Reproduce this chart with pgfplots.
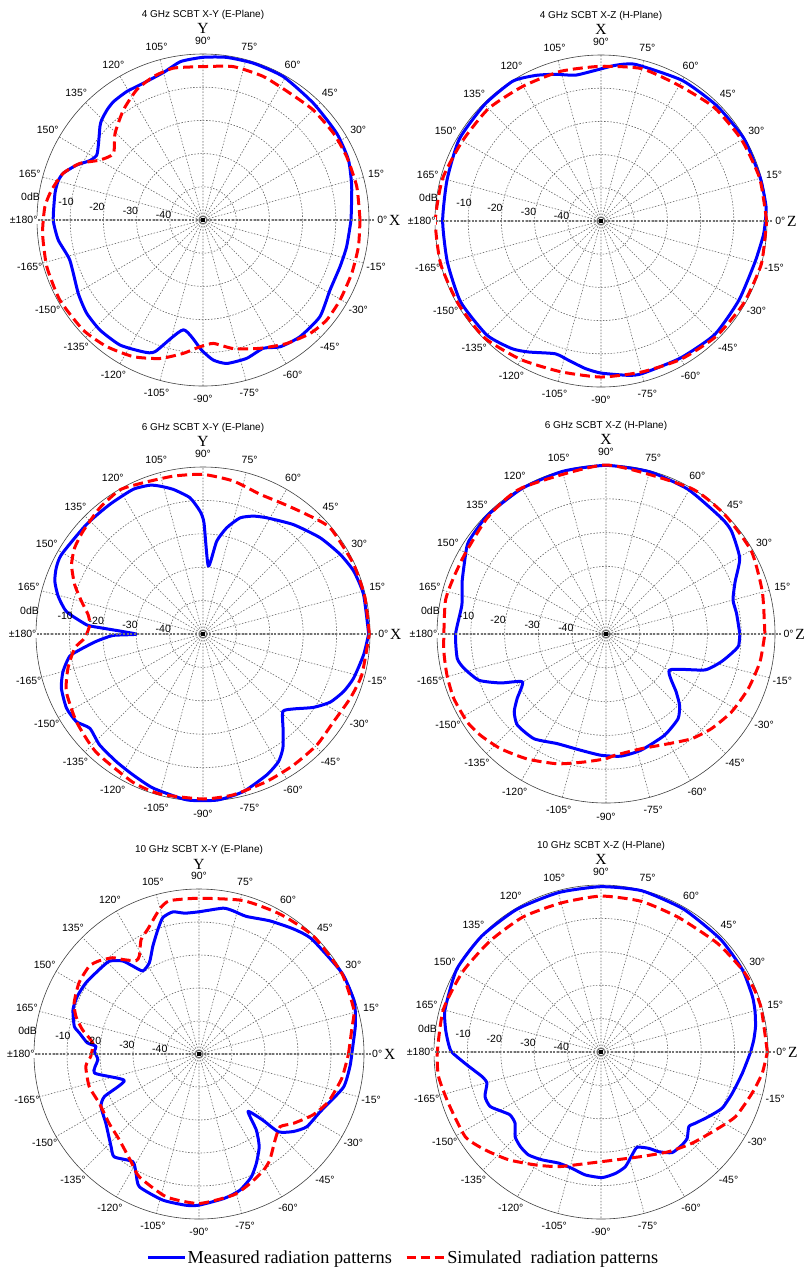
\documentclass[border=0pt]{standalone}
\usepackage{pgfplots}
\pgfplotsset{compat=1.18}
\usepgfplotslibrary{polar}
\usepackage{fontspec}
\setmainfont{Liberation Sans}
\newfontfamily\seriffont{Liberation Serif}
\newcommand\lbl{\fontsize{10.5}{12}\selectfont}
\newcommand\ttl{\fontsize{10}{12}\selectfont}
\newcommand\axl{\seriffont\fontsize{15.5}{17}\selectfont}
\newcommand\leg{\seriffont\fontsize{18.3}{20}\selectfont}

\pgfplotsset{
  rp/.style={
    scale only axis, anchor=center,
    xmin=0, xmax=360, ymin=0, ymax=50,
    xtick={0,15,...,345}, ytick={10,20,30,40},
    xticklabel={\empty}, yticklabel={\empty},
    major tick length=0pt,
    grid=major,
    major grid style={black!60, line width=0.6pt, dash pattern=on 1.5pt off 1.6pt},
    axis line style={black!75, line width=0.6pt},
    y axis line style={draw=none},
    clip=false,
  },
  meas/.style={color=blue, line width=3pt, smooth, tension=0.35, line join=round,
    legend image code/.code={\draw[draw=blue, line width=2.3pt] (0pt,0pt) -- (37pt,0pt);}},
  sim/.style={color=red, line width=3pt, dash pattern=on 10pt off 5pt, smooth, tension=0.35,
    legend image code/.code={\draw[draw=red, line width=2.3pt, dash pattern=on 9pt off 5pt] (0pt,0pt) -- (38pt,0pt);}},
}

\newcommand\decor[3]{%
  \draw[black!55, line width=1.1pt, dash pattern=on 2pt off 1.6pt] (axis cs:180,52) -- (axis cs:0,52);
  \fill[black] (axis cs:0,0) +(-2pt,-2pt) rectangle +(2pt,2pt);
  \node[font=\ttl] at (axis cs:90,61.7) {#1};
  \node[font=\axl] at (axis cs:90,57.6) {#2};
  \node[font=\axl, anchor=west, inner sep=0pt] at (axis cs:0,56) {#3};
  \pgfplotsinvokeforeach{0,15,...,165}{\node[font=\lbl] at (axis cs:##1,54) {##1°};}
  \node[font=\lbl, fill=white, inner sep=0.5pt] at (axis cs:180,54) {±180°};
  \pgfplotsinvokeforeach{-165,-150,...,-15}{\node[font=\lbl] at (axis cs:##1,54) {##1°};}
  \node[font=\lbl] at (axis cs:172.4,52.4) {0dB};
  \node[font=\lbl] at (axis cs:172.5,41.6) {-10};
  \node[font=\lbl] at (axis cs:172.8,32.2) {-20};
  \node[font=\lbl] at (axis cs:173,22) {-30};
  \node[font=\lbl] at (axis cs:172,12) {-40};
}

\begin{document}
\begin{tikzpicture}
\useasboundingbox (0,0) rectangle (804pt,-1267pt);

% ---------- 4 GHz E-plane
\begin{polaraxis}[rp, at={(203pt,-220pt)}, width=332pt, height=332pt]
\addplot[meas] table[y expr=\thisrowno{1}+50] {
a d
0 -5.4
12.6 -4.1
22.4 -2.6
33 -2.0
46.6 -1.6
60.7 -0.5
72 -0.4
81.7 -0.5
90 -1.0
98 -1.8
105 -4.0
115 -5.1
120.7 -5.0
127 -5.3
131 -6.0
135.4 -7.1
137.8 -8.1
143.8 -11.0
148.6 -12.5
152.3 -11.5
156.5 -8.5
161.5 -5.6
165 -4.8
169.8 -4.7
180 -4.9
187.9 -6.0
196.7 -8.1
210.5 -6.4
218.7 -5.1
226.9 -4.6
236.4 -4.8
245.6 -6.4
250 -7.8
259.9 -16.4
269.4 -10.8
274.2 -7.7
279.4 -6.2
287.5 -6.3
295.2 -7.3
301.3 -5.3
309.7 -4.3
320.4 -4.3
331 -6.3
341.2 -6.4
349.5 -6.0
360 -5.4
};
\addplot[sim] table[y expr=\thisrowno{1}+50] {
a d
0 -2.7
12.2 -2.6
23.8 -2.7
33.6 -2.8
45 -3.1
55.5 -3.7
67.2 -3.1
78.8 -2.9
90 -3.8
101 -3.4
109 -4.3
117 -6.0
125.9 -9.1
135.4 -12.8
143.4 -16.4
149.8 -14.1
155.3 -9.2
161.5 -5.6
168.8 -3.5
175.2 -2.2
184.8 -1.5
196.6 -0.9
209.2 -0.6
222.6 -1.0
232.7 -2.1
243 -3.8
252.7 -6.3
261.6 -9.4
268.6 -11.8
274.8 -12.7
283.3 -10.2
294 -7.7
304 -5.1
313.4 -3.0
321 -2.1
329.7 -2.2
340.3 -2.4
350.3 -2.5
360 -2.7
};
\decor{4 GHz SCBT X-Y (E-Plane)}{Y}{X}
\end{polaraxis}

% ---------- 4 GHz H-plane
\begin{polaraxis}[rp, at={(601pt,-221pt)}, width=332pt, height=332pt]
\addplot[meas] table[y expr=\thisrowno{1}+50] {
a d
0 -0.5
5 -0.1
15 -0.3
30 -0.3
45 -0.8
60 -1.1
77.6 -1.7
84.7 -2.9
92.2 -4.6
100 -5.4
107.3 -3.7
114.3 -1.9
122.3 -0.2
135 -0.4
150 -0.7
165 -2.0
180 -2.3
195 -2.1
210 -1.2
225 -1.4
235 -3.1
241 -4.9
251 -7.7
257 -6.9
264 -5.3
270 -4.2
280 -2.8
285 -2.4
300 -2.3
315 -1.6
330 -2.1
345 -2.0
355 -0.9
360 -0.5
};
\addplot[sim] table[y expr=\thisrowno{1}+50] {
a d
0 -0.1
15 -0.5
30 -1.1
45 -1.7
60 -2.9
75 -2.5
90 -3.4
105 -3.3
120 -3.1
135 -2.1
150 -1.8
165 -0.6
180 -0.1
195 0
210 -0.3
225 -0.3
240 -1.8
255 -3.0
270 -3.0
285 -2.9
300 -1.9
315 -0.9
330 -0.4
345 0
360 -0.1
};
\decor{4 GHz SCBT X-Z (H-Plane)}{X}{Z}
\end{polaraxis}

% ---------- 6 GHz E-plane
\begin{polaraxis}[rp, at={(203pt,-634pt)}, width=334pt, height=334pt]
\addplot[meas] table[y expr=\thisrowno{1}+50] {
a d
0 -0.4
13.8 -0.5
22.6 -1.1
30.1 -2.5
39.4 -4.6
50.4 -7.5
61.2 -10.3
66.8 -11.6
72.3 -13.5
77.4 -17.4
81.6 -21.9
85.5 -29.6
89.5 -16.7
91.4 -13.2
95.5 -9.0
101.6 -5.8
106.2 -3.9
109.6 -2.7
115.8 -1.9
125.7 -2.2
136.8 -2.1
150.7 -1.4
155.7 -1.8
160.4 -2.9
165.4 -5.2
170.6 -8.5
174.7 -14.0
176 -16.5
180 -29.9
180.9 -23.1
183.9 -18.0
187.3 -12.8
189.5 -9.5
195 -6.6
200.9 -4.6
208.5 -3.5
214.7 -3.9
219.8 -5.9
227 -4.6
235.9 -3.8
243.6 -2.9
252.1 -1.5
264.4 -0.1
275 -0.1
284.4 -1.3
294.4 -3.7
300.6 -5.6
305 -8.3
310 -12.7
315.9 -16.7
320.4 -14.8
326.4 -10.3
331.8 -6.8
337.8 -4.5
343.7 -3.0
352.7 -1.5
360 -0.4
};
\addplot[sim] table[y expr=\thisrowno{1}+50] {
a d
0 -0.2
13 -0.3
25 -0.3
39.8 -0.4
49 -2.6
58.3 -4.2
67.8 -4.8
78.8 -3.3
90 -2.2
100.7 -1.9
111.6 -1.3
119.9 -0.2
129.3 -1.2
139.4 -2.7
146.1 -3.7
152.2 -5.5
158.9 -8.8
164.9 -12.3
170.4 -15.1
175.3 -16.0
181.9 -14.6
186.2 -11.4
194.2 -8.3
202.8 -5.6
214.7 -3.9
227.8 -2.3
244.7 -0.9
255 -0.4
270 -0.6
280.7 -1.0
293.4 -1.9
304.7 -2.3
315.8 -2.4
326.2 -2.9
336.5 -1.9
345.6 -0.9
360 -0.2
};
\decor{6 GHz SCBT X-Y (E-Plane)}{Y}{X}
\end{polaraxis}

% ---------- 6 GHz H-plane
\begin{polaraxis}[rp, at={(606pt,-634pt)}, width=338pt, height=338pt]
\addplot[meas] table[y expr=\thisrowno{1}+50] {
a d
0 -10.4
9 -10.9
15 -11.1
22 -8.8
29.6 -4.5
39.3 -2.0
45.2 -1.6
60.4 -0.8
75 -0.3
90 -0.1
105 -0.2
120 -0.3
135 -0.4
146 -1.0
150.6 -2.3
160 -4.7
168.6 -6.5
180 -5.5
189.3 -5.4
193.6 -6.8
200 -10.0
204.9 -15.6
209.8 -21.5
216 -17.5
220.3 -14.4
225.8 -12.4
235.5 -12.4
246 -14.5
257.8 -14.8
267.6 -14.1
277 -13.6
286.8 -14.1
300 -15.4
310.4 -17.1
315.9 -19.7
320.5 -23.1
330.4 -28.4
340 -18.9
346.5 -14.9
352 -12.0
355 -10.6
360 -10.4
};
\addplot[sim] table[y expr=\thisrowno{1}+50] {
a d
0 -3.0
15 -2.1
29.6 -0.5
45 -0.2
60 -0.1
90 0
120 -0.1
135 -0.8
150 -2.0
160 -1.9
168.6 -1.5
185 -1.8
194.5 -1.4
203 -1.1
212.4 -1.4
219 -2.3
227.4 -3.9
237.8 -6.3
249.5 -9.0
260.4 -11.6
270 -13.1
274 -14.0
287 -14.5
299.4 -12.7
309.2 -10.0
318 -8.1
328.1 -6.3
339 -4.9
349.8 -3.7
360 -3.0
};
\decor{6 GHz SCBT X-Z (H-Plane)}{X}{Z}
\end{polaraxis}

% ---------- 10 GHz E-plane
\begin{polaraxis}[rp, at={(199pt,-1054pt)}, width=330pt, height=330pt,
  legend style={at={(1.119,-0.117)}, anchor=center, draw=none, fill=none,
    legend columns=2, font=\leg, inner sep=0pt,
    nodes={inner sep=1.5pt},
    /tikz/every even column/.append style={column sep=12pt}}]
\addplot[meas] table[y expr=\thisrowno{1}+50] {
a d
0 -3.7
10 -1.9
15.3 -0.9
19.4 -0.3
29.6 -0.2
45.5 -1.2
52.9 -2.5
62 -4.3
71 -5.9
76.6 -5.4
80.6 -5.2
90 -6.9
95.8 -7.1
100.4 -6.2
104.8 -7.2
108.2 -10.2
113.1 -14.4
118.5 -18.5
124.1 -19.6
127 -16.6
129.4 -13.5
134 -10.9
139.7 -10.4
147.8 -9.5
154.5 -9.2
160.5 -9.5
167.5 -11.3
170 -13.2
174.3 -16.0
175.7 -18.7
178.5 -18.3
183.2 -19.3
190.3 -17.8
199.5 -26.0
204.2 -18.6
208.2 -16.3
216.7 -14.8
226.5 -11.3
230.5 -9.6
238.4 -11.7
242.2 -9.1
245.8 -5.9
256 -4.4
265 -4.0
270 -4.2
280 -5.6
286.7 -6.9
293 -9.5
297.7 -12.6
303 -16.5
307 -21.1
310.5 -27.1
314 -22.1
315.6 -16.3
320.6 -13.0
326 -10.6
334.6 -9.3
347 -5.1
355.3 -4.1
360 -3.7
};
\addlegendentry{Measured radiation patterns}
\addplot[sim] table[y expr=\thisrowno{1}+50] {
a d
0 -4.7
10 -2.9
16 -1.2
29.4 -0.3
45.9 -0.2
59.9 -1.0
73.9 -1.6
90 -2.8
100.9 -2.7
105.2 -4.5
112.3 -9.1
116.8 -11.1
121.3 -15.2
124 -15.9
128.9 -13.2
131.9 -10.8
137 -8.6
141.3 -7.4
149.2 -7.7
157.7 -9.1
163 -11.0
168.2 -13.9
174 -17.6
181.2 -17.2
186.2 -15.5
196.5 -15.3
206.3 -16.3
217.7 -15.6
227.2 -14.5
237.8 -11.4
244.1 -8.6
257.1 -5.6
270 -4.7
283.6 -6.0
291.4 -7.8
299 -9.7
303.8 -11.4
311.5 -15.2
318.1 -17.0
323.7 -14.5
332 -10.8
339.9 -8.2
350.4 -6.1
360 -4.7
};
\addlegendentry{Simulated~~radiation patterns}
\decor{10 GHz SCBT X-Y (E-Plane)}{Y}{X}
\end{polaraxis}

% ---------- 10 GHz H-plane
\begin{polaraxis}[rp, at={(601pt,-1052pt)}, width=334pt, height=334pt]
\addplot[meas] table[y expr=\thisrowno{1}+50] {
a d
0 -5.2
4.6 -4.1
9.4 -3.1
14.8 -2.3
20.2 -1.7
30.3 -1.0
43.3 -0.8
59.9 -0.6
75.8 -0.2
90 -0.5
104.9 -0.6
120.5 -0.4
135.8 -0.2
150.2 -0.2
164.8 -1.6
171.8 -3.0
176.6 -4.2
180 -5.3
185.4 -9.6
191.6 -13.6
195.2 -14.6
201 -12.8
206.1 -13.0
210.9 -15.4
214.7 -16.9
219.6 -16.6
224.6 -13.9
229.5 -12.8
234.8 -12.3
241.3 -13.2
249.1 -14.4
256 -14.1
262.7 -12.9
270.5 -12.4
276.8 -13.4
282 -14.9
286.8 -17.8
290.8 -19.5
296.4 -17.8
300.1 -15.5
305.3 -13.1
311.2 -13.1
315 -13.5
319.7 -15.5
323 -14.6
329.1 -12.4
335.2 -10.0
342.6 -8.8
351.5 -7.2
360 -5.2
};
\addplot[sim] table[y expr=\thisrowno{1}+50] {
a d
0 -0.2
15 -0.3
22 -0.4
30 -1.0
43 -2.3
60 -3.5
75 -3.3
90 -3.3
105 -3.8
120 -3.3
135 -3.0
150 -2.1
165 -1.1
180 -1.0
188.5 -0.8
198.5 -1.8
212 -2.1
220.2 -4.6
229.4 -7.5
239.8 -10.9
249.7 -13.4
263.7 -16.5
277.6 -17.4
291.5 -16.4
304.3 -13.9
315 -11.4
325.8 -8.5
334.4 -5.3
344.8 -3.1
352.6 -1.3
360 -0.2
};
\decor{10 GHz SCBT X-Z (H-Plane)}{X}{Z}
\end{polaraxis}
\end{tikzpicture}
\end{document}
